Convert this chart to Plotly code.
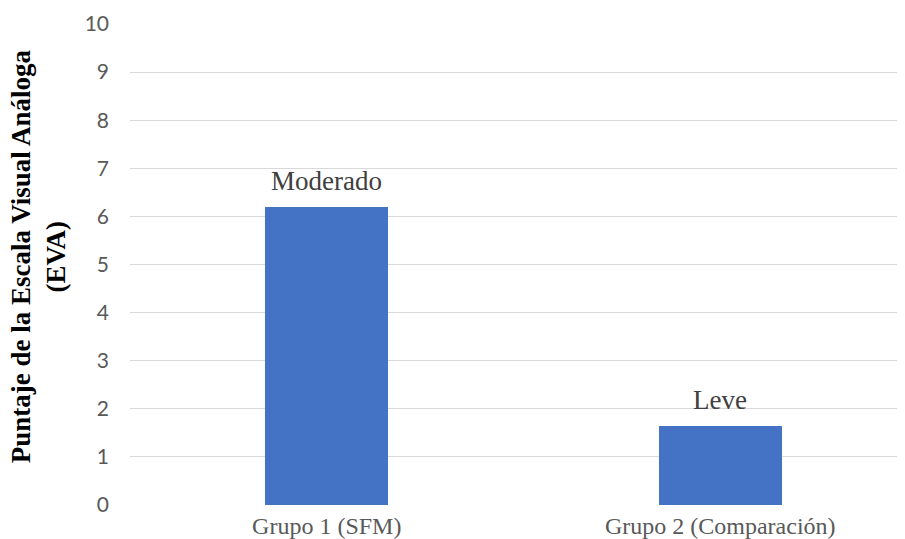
import plotly.graph_objects as go

categories = ["Grupo 1 (SFM)", "Grupo 2 (Comparación)"]
values = [6.2, 1.64]
labels = ["Moderado", "Leve"]
y_ticks = list(range(0, 11))

fig = go.Figure()
fig.add_trace(go.Bar(
    x=[0, 1], y=values, width=0.3126,
    marker=dict(color="#4472c4", line=dict(width=0)),
    hoverinfo="skip",
))

for i, (v, lab) in enumerate(zip(values, labels)):
    fig.add_annotation(x=i, y=v, text=lab, showarrow=False, yanchor="bottom",
                       yshift=9, font=dict(family="Liberation Serif", size=27, color="#404040"))

fig.add_annotation(xref="paper", yref="paper", x=-0.118, y=0.516, xanchor="center", yanchor="middle",
                   text="<b>Puntaje de la Escala Visual Análoga<br>(EVA)</b>", textangle=-90,
                   showarrow=False, font=dict(family="Liberation Serif", size=27, color="#000000"))

fig.update_layout(
    width=897, height=531,
    margin=dict(l=122, r=0, t=16, b=34),
    paper_bgcolor="white", plot_bgcolor="white",
    showlegend=False,
    bargap=0,
    xaxis=dict(range=[-0.5, 1.4695], tickvals=[0, 1], ticktext=categories,
               showgrid=False, zeroline=False, showline=False, ticks="", automargin=False,
               ticklabelstandoff=4,
               tickfont=dict(family="Liberation Serif", size=24, color="#595959")),
    yaxis=dict(range=[0, 10], tickvals=y_ticks, showgrid=True, gridcolor="#d9d9d9", gridwidth=1.3,
               zeroline=False, showline=False, ticks="", ticklabelstandoff=20, automargin=False,
               tickfont=dict(family="Lato", size=21, color="#595959")),
)

fig.write_html("out.html")
